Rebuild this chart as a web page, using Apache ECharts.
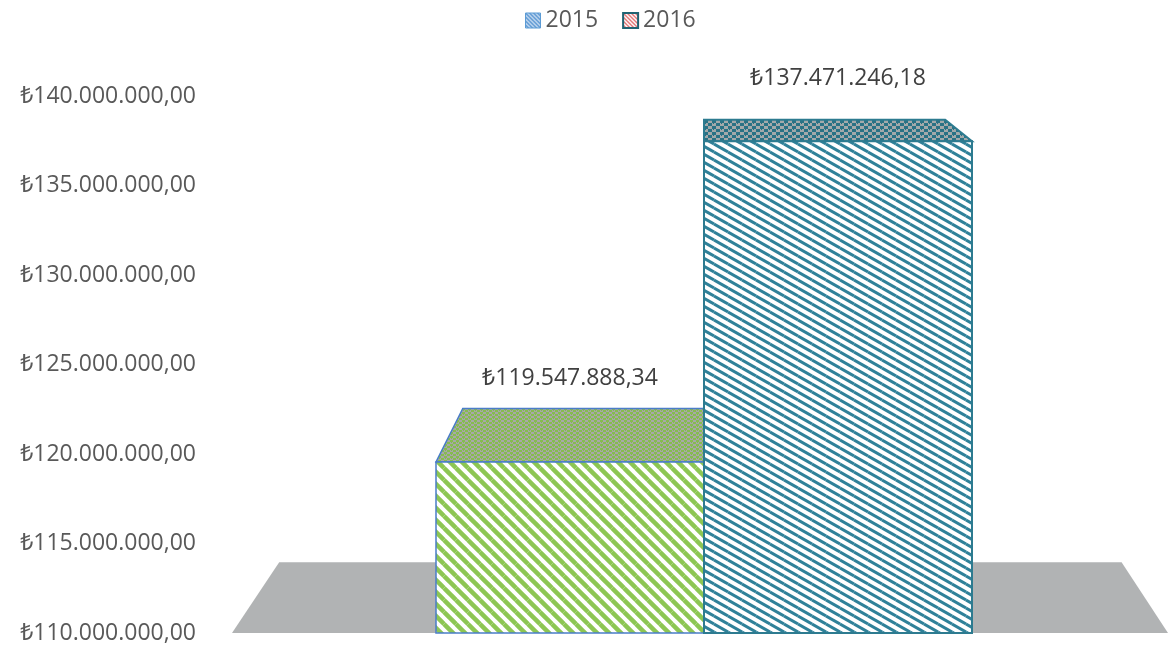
<!DOCTYPE html>
<html>
<head>
<meta charset="utf-8">
<title>2015 - 2016</title>
<script src="https://cdn.jsdelivr.net/npm/echarts@6/dist/echarts.min.js"></script>
<style>
  html, body { margin: 0; padding: 0; background: #fff; }
  #chart { width: 1168px; height: 646px; }
</style>
</head>
<body>
<div id="chart"></div>
<script>
var years = ['2015', '2016']
var totals = [119547888.34, 137471246.18]
var axisMin = 110000000
var axisMax = 140000000
var axisStep = 5000000

var FONT = '"Open Sans", "Noto Sans", sans-serif'
var depth = 0.1 // how far the top face goes back toward the vanishing point

function formatLira(v) {
  var parts = v.toFixed(2).split('.')
  var intPart = parts[0].replace(/\B(?=(\d{3})+(?!\d))/g, '.')
  return '₺' + intPart + ',' + parts[1]
}

// diagonal hatch tile, lines going down to the right
function stripes(w, h, lineW, fg, bg) {
  var c = document.createElement('canvas')
  c.width = w
  c.height = h
  var ctx = c.getContext('2d')
  ctx.fillStyle = bg
  ctx.fillRect(0, 0, w, h)
  ctx.strokeStyle = fg
  ctx.lineWidth = lineW
  for (var i = -1; i <= 1; i++) {
    for (var j = -1; j <= 1; j++) {
      ctx.beginPath()
      ctx.moveTo(i * w, j * h)
      ctx.lineTo((i + 1) * w, (j + 1) * h)
      ctx.stroke()
    }
  }
  return { image: c, repeat: 'repeat' }
}

// fine woven texture for the top faces
function weave(fg, bg, w, h) {
  var c = document.createElement('canvas')
  c.width = w
  c.height = h
  var ctx = c.getContext('2d')
  ctx.fillStyle = bg
  ctx.fillRect(0, 0, w, h)
  ctx.fillStyle = fg
  ctx.fillRect(0, 0, w / 2, h / 2)
  ctx.fillRect(w / 2, h / 2, w / 2, h / 2)
  ctx.fillRect(1, h / 2, 1, 1)
  return { image: c, repeat: 'repeat' }
}

var looks = [
  {
    front: stripes(12, 12, 4.5, '#8dc653', '#ffffff'),
    top: weave('#86bb50', '#a8a8a8', 6, 4),
    border: '#4a7ec8',
    borderWidth: 1.5,
    labelGap: 30
  },
  {
    front: stripes(14, 8, 3, '#2f8199', '#ffffff'),
    top: weave('#2a7285', '#a3a9aa', 8, 6),
    border: '#2d7b90',
    borderWidth: 2,
    labelGap: 41
  }
]

function makeBox(look) {
  return function (params, api) {
    var cs = params.coordSys
    var top = api.coord([api.value(0), api.value(1)])
    var base = api.coord([api.value(0), axisMin])
    var bw = api.size([1, 0])[0]
    var x0 = top[0] - bw / 2
    var x1 = top[0] + bw / 2
    var vp = [cs.x + cs.width / 2, cs.y - 171]
    var back = function (p) {
      return [p[0] + depth * (vp[0] - p[0]), p[1] + depth * (vp[1] - p[1])]
    }
    var fl = [x0, top[1]]
    var fr = [x1, top[1]]
    var bl = back(fl)
    var br = back(fr)
    return {
      type: 'group',
      children: [
        {
          type: 'polygon',
          shape: { points: [fl, fr, br, bl] },
          style: { fill: look.top, stroke: look.border, lineWidth: look.borderWidth }
        },
        {
          type: 'rect',
          shape: { x: x0, y: top[1], width: bw, height: base[1] - top[1] },
          style: { fill: look.front, stroke: look.border, lineWidth: look.borderWidth }
        },
        {
          type: 'text',
          x: top[0],
          y: Math.min(bl[1], br[1]) - look.labelGap,
          style: {
            text: formatLira(api.value(1)),
            fill: '#404040',
            font: '23px ' + FONT,
            align: 'center',
            verticalAlign: 'middle'
          }
        }
      ]
    }
  }
}

function renderFloor(params, api) {
  var cs = params.coordSys
  var y = api.coord([0, axisMin])[1]
  var vp = [cs.x + cs.width / 2, cs.y - 171]
  var back = function (p) {
    return [p[0] + depth * (vp[0] - p[0]), p[1] + depth * (vp[1] - p[1])]
  }
  var l = [cs.x - 204, y]
  var r = [cs.x + cs.width + 196, y]
  return {
    type: 'polygon',
    shape: { points: [l, r, back(r), back(l)] },
    style: { fill: '#b1b3b4' }
  }
}

var myChart = echarts.init(document.getElementById('chart'))
var option = {
  backgroundColor: '#ffffff',
  animation: false,
  textStyle: { fontFamily: FONT },
  legend: {
    top: 4,
    left: 520,
    itemWidth: 15,
    itemHeight: 15,
    itemGap: 24,
    textStyle: { fontSize: 23, color: '#595959', fontFamily: FONT },
    data: [
      {
        name: years[0],
        icon: 'rect',
        itemStyle: { color: stripes(4, 4, 1.4, '#4f8fd0', '#cfe0f3'), borderColor: '#5b9bd5', borderWidth: 1 }
      },
      {
        name: years[1],
        icon: 'rect',
        itemStyle: { color: stripes(4, 4, 1.4, '#e07070', '#ffffff'), borderColor: '#1f6373', borderWidth: 2 }
      }
    ]
  },
  grid: {
    left: 436,
    right: 196,
    top: 96,
    bottom: 13
  },
  xAxis: {
    type: 'category',
    data: years,
    show: false
  },
  yAxis: {
    type: 'value',
    min: axisMin,
    max: axisMax,
    interval: axisStep,
    axisLine: { show: false },
    axisTick: { show: false },
    splitLine: { show: false },
    axisLabel: {
      margin: 240,
      fontSize: 23,
      color: '#595959',
      fontFamily: FONT,
      formatter: function (v) { return formatLira(v) }
    }
  },
  series: [
    {
      name: 'floor',
      type: 'custom',
      silent: true,
      z: 1,
      renderItem: renderFloor,
      data: [[0, axisMin]]
    },
    {
      name: years[0],
      type: 'custom',
      z: 2,
      renderItem: makeBox(looks[0]),
      data: [[0, totals[0]]]
    },
    {
      name: years[1],
      type: 'custom',
      z: 3,
      renderItem: makeBox(looks[1]),
      data: [[1, totals[1]]]
    }
  ]
}
myChart.setOption(option)
</script>
</body>
</html>
